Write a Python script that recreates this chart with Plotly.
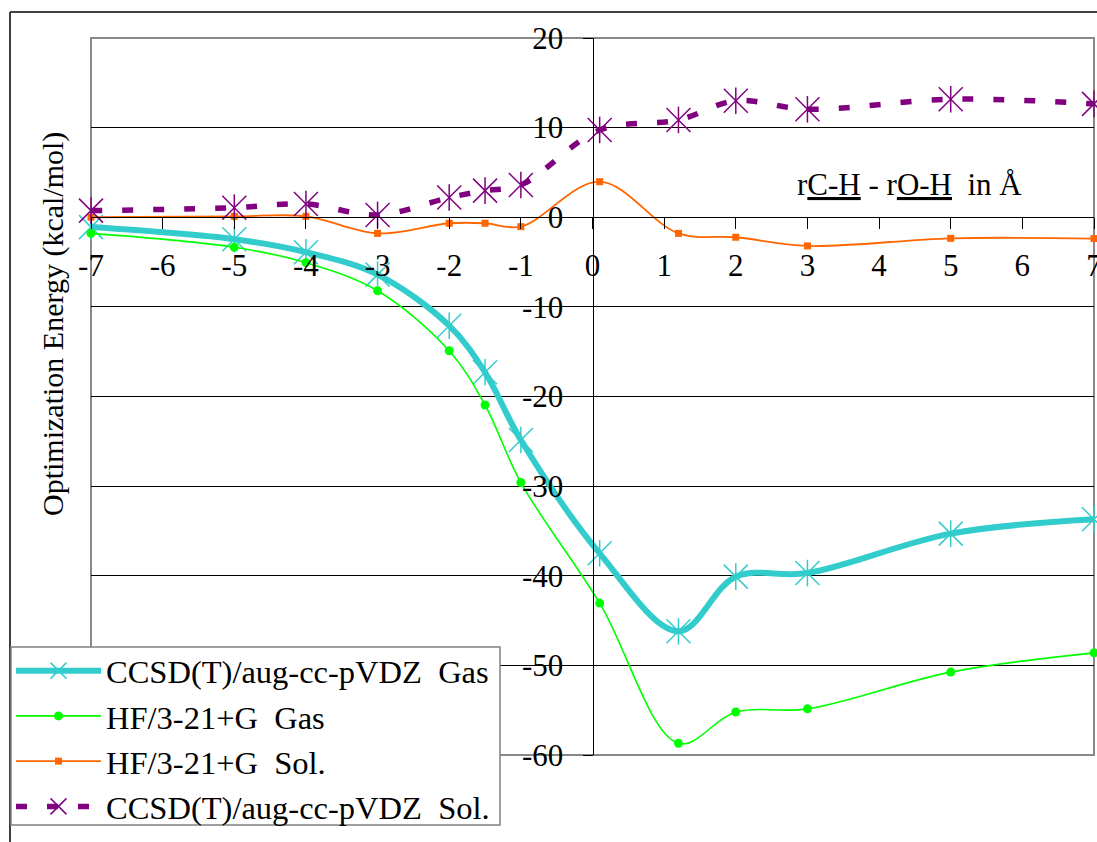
import plotly.graph_objects as go

# ---- data ----
x_vals = [-7, -5, -4, -3, -2, -1.5, -1, 0.1, 1.2, 2, 3, 5, 7]
ccsd_gas = [-1.1, -2.45, -3.9, -6.4, -12.1, -17.3, -24.85, -37.5, -46.2, -40.1, -39.7, -35.3, -33.7]
hf_gas = [-1.8, -3.35, -5.07, -8.2, -14.9, -20.95, -29.6, -43.05, -58.7, -55.2, -54.85, -50.75, -48.6]
hf_sol = [0.0, 0.1, 0.1, -1.8, -0.67, -0.67, -1.05, 3.97, -1.8, -2.23, -3.2, -2.35, -2.38]
ccsd_sol = [0.74, 1.07, 1.48, 0.26, 2.2, 2.97, 3.6, 9.74, 10.86, 13.0, 12.05, 13.17, 12.65]

series_names = [
    "CCSD(T)/aug-cc-pVDZ\u00a0 Gas",
    "HF/3-21+G\u00a0 Gas",
    "HF/3-21+G\u00a0 Sol.",
    "CCSD(T)/aug-cc-pVDZ\u00a0 Sol.",
]
x_ticks = [-7, -6, -5, -4, -3, -2, -1, 0, 1, 2, 3, 4, 5, 6, 7]
x_tick_text = ["-7", "-6", "-5", "-4", "-3", "-2", "-1", "0", "1", "2", "3", "4", "5", "6", "7"]
y_ticks = [20, 10, 0, -10, -20, -30, -40, -50, -60]
y_tick_text = ["20", "10", "0", "-10", "-20", "-30", "-40", "-50", "-60"]
y_title = "Optimization Energy (kcal/mol)"
x_note = "r<u>C-H</u> - r<u>O-H</u>\u00a0 in Å"

FONT = "Liberation Serif"
CYAN = "#33CCCC"
GREEN = "#00FF00"
ORANGE = "#FF6600"
PURPLE = "#800080"

# plot-area geometry in pixels (used to place decorations)
L, R, T, B = 91, 1094, 38, 755
W, H = R - L, B - T


def px_x(p):
    return (p - L) / W


def px_y(p):
    return (B - p) / H


fig = go.Figure()

# CCSD(T) gas
fig.add_trace(go.Scatter(
    x=x_vals, y=ccsd_gas, name=series_names[0], mode="lines+markers",
    line=dict(color=CYAN, width=6, shape="spline", smoothing=1.0),
    marker=dict(symbol="x-thin-open", size=24, color=CYAN, line=dict(color=CYAN, width=1.5)),
    cliponaxis=False,
))
fig.add_trace(go.Scatter(
    x=x_vals, y=ccsd_gas, mode="markers", showlegend=False,
    marker=dict(symbol="line-ns-open", size=19, color=CYAN, line=dict(color=CYAN, width=1.5)),
    cliponaxis=False,
))
# HF gas
fig.add_trace(go.Scatter(
    x=x_vals, y=hf_gas, name=series_names[1], mode="lines+markers",
    line=dict(color=GREEN, width=1.6, shape="spline", smoothing=1.0),
    marker=dict(symbol="circle", size=9, color=GREEN),
    cliponaxis=False,
))
# HF sol
fig.add_trace(go.Scatter(
    x=x_vals, y=hf_sol, name=series_names[2], mode="lines+markers",
    line=dict(color=ORANGE, width=1.8, shape="spline", smoothing=1.0),
    marker=dict(symbol="square", size=7, color=ORANGE),
    cliponaxis=False,
))
# CCSD(T) sol
fig.add_trace(go.Scatter(
    x=x_vals, y=ccsd_sol, name=series_names[3], mode="lines+markers",
    line=dict(color=PURPLE, width=5.5, shape="spline", smoothing=1.0, dash="11px,20px"),
    marker=dict(symbol="x-thin-open", size=24, color=PURPLE, line=dict(color=PURPLE, width=1.5)),
    cliponaxis=False,
))
fig.add_trace(go.Scatter(
    x=x_vals, y=ccsd_sol, mode="markers", showlegend=False,
    marker=dict(symbol="line-ns-open", size=19, color=PURPLE, line=dict(color=PURPLE, width=1.5)),
    cliponaxis=False,
))

fig.update_layout(
    width=1097, height=842,
    margin=dict(l=L, r=1097 - R, t=T, b=842 - B, autoexpand=False),
    paper_bgcolor="white", plot_bgcolor="white",
    font=dict(family=FONT, size=31, color="black"),
    showlegend=True,
    legend=dict(
        xref="container", yref="container",
        x=11 / 1097, y=1 - 643 / 842, xanchor="left", yanchor="top",
        bgcolor="rgba(0,0,0,0)", borderwidth=0,
        font=dict(family=FONT, size=32.5, color="black"),
        itemwidth=85, tracegroupgap=0,
    ),
    xaxis=dict(
        range=[-7, 7], anchor="free", position=0.75,
        tickvals=x_ticks, ticktext=x_tick_text,
        ticks="outside", ticklen=11, tickcolor="black", tickwidth=1,
        ticklabelstandoff=10, ticklabeloverflow="allow",
        showline=True, linecolor="black", linewidth=1,
        showgrid=False, zeroline=False,
        tickfont=dict(family=FONT, size=31, color="black"),
    ),
    yaxis=dict(
        range=[-60, 20], anchor="free", position=0.5,
        tickvals=y_ticks, ticktext=y_tick_text,
        ticks="outside", ticklen=10, tickcolor="black", tickwidth=1,
        ticklabelstandoff=13,
        showline=True, linecolor="black", linewidth=1,
        showgrid=True, gridcolor="black", gridwidth=1,
        zeroline=False,
        tickfont=dict(family=FONT, size=31, color="black"),
    ),
    shapes=[
        dict(type="rect", xref="paper", yref="paper", x0=0, x1=1, y0=0, y1=1,
             line=dict(color="#888888", width=2), layer="between"),
        dict(type="line", xref="paper", yref="paper", x0=px_x(10), x1=px_x(1200),
             y0=px_y(12), y1=px_y(12), line=dict(color="#404040", width=2)),
        dict(type="line", xref="paper", yref="paper", x0=px_x(10), x1=px_x(10),
             y0=px_y(900), y1=px_y(12), line=dict(color="#404040", width=2)),
        # legend box
        dict(type="rect", xref="paper", yref="paper", x0=px_x(11), x1=px_x(500),
             y0=px_y(825), y1=px_y(647), fillcolor="white",
             line=dict(color="#808080", width=1.5), layer="above"),
    ],
    annotations=[
        dict(text=y_title, xref="paper", yref="paper", x=px_x(53), y=px_y(324),
             textangle=-90, showarrow=False, xanchor="center", yanchor="middle",
             font=dict(family=FONT, size=30, color="black")),
        dict(text=x_note, xref="x", yref="y", x=4.42, y=3.6,
             showarrow=False, xanchor="center", yanchor="middle",
             font=dict(family=FONT, size=31, color="black")),
    ],
)

fig.write_html("out.html")
